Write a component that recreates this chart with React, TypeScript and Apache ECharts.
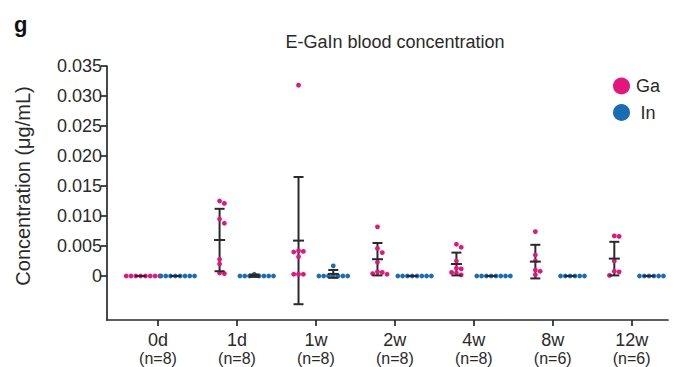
import React, { useEffect, useRef } from "react";
import * as echarts from "echarts";

// ---------- data ----------
const categories = ["0d", "1d", "1w", "2w", "4w", "8w", "12w"];
const sampleSizes = [8, 8, 8, 8, 8, 6, 6];
const yTicks = [0, 0.005, 0.01, 0.015, 0.02, 0.025, 0.03, 0.035];

const gaValues: number[][] = [
  [0, 0, 0, 0, 0, 0, 0, 0],
  [0.0125, 0.0121, 0.0095, 0.0088, 0.0028, 0.002, 0.0005, 0.0004],
  [0.0318, 0.0042, 0.0041, 0.004, 0.0032, 0.0003, 0.0003, 0.0003],
  [0.0082, 0.0046, 0.0039, 0.0023, 0.0007, 0.0006, 0.0004, 0.0003],
  [0.0053, 0.0048, 0.0025, 0.0013, 0.0012, 0.0006, 0.0005, 0.0002],
  [0.0074, 0.0035, 0.0025, 0.001, 0.0008, 0.0002],
  [0.0067, 0.0066, 0.0025, 0.0008, 0.0007, 0.0001],
];
const inValues: number[][] = [
  [0, 0, 0, 0, 0, 0, 0, 0],
  [0.0003, 0, 0, 0, 0, 0, 0, 0],
  [0.0017, 0, 0, 0, 0, 0, 0, 0],
  [0, 0, 0, 0, 0, 0, 0, 0],
  [0, 0, 0, 0, 0, 0, 0, 0],
  [0, 0, 0, 0, 0, 0],
  [0, 0, 0, 0, 0, 0],
];
const gaMean = [0, 0.006, 0.0059, 0.0028, 0.002, 0.0024, 0.0029];
const gaSD = [0, 0.0052, 0.0106, 0.0027, 0.0019, 0.0028, 0.0028];
const inMean = [0, 0.00005, 0.00035, 0, 0, 0, 0];
const inSD = [0, 0.0002, 0.00065, 0, 0, 0, 0];

// ---------- styling / layout ----------
const GA_COLOR = "#E5157C";
const IN_COLOR = "#1A6CB4";
const INK = "#2a2a2a";
const FONT = "'Liberation Sans', Arial, Helvetica, sans-serif";
const GROUP_OFFSET = 0.22;
const DOT = 4.8;
const PX_PER_X = 79;
const PX_PER_Y = 6000;

function swarm(values: number[], center: number): number[][] {
  const placed: { x: number; y: number }[] = [];
  const out: number[][] = new Array(values.length);
  const order = values.map((_, i) => i).sort((a, b) => values[b] - values[a]);
  for (const i of order) {
    const y = values[i] * PX_PER_Y;
    for (let k = 0; k < 60; k++) {
      const off = k === 0 ? 0 : (k % 2 === 1 ? 1 : -1) * Math.ceil(k / 2) * DOT;
      if (placed.every((p) => Math.hypot(p.x - off, p.y - y) >= DOT - 0.01)) {
        placed.push({ x: off, y });
        out[i] = [center + off / PX_PER_X, values[i]];
        break;
      }
    }
  }
  return out;
}

export default function App() {
  const ref = useRef<HTMLDivElement>(null);

  useEffect(() => {
    document.body.style.margin = "0";
    if (!ref.current) return;
    const chart = echarts.init(ref.current, undefined, { renderer: "svg" });

    const gaData: number[][] = [];
    const inData: number[][] = [];
    const errData: number[][] = [];
    categories.forEach((_, i) => {
      gaData.push(...swarm(gaValues[i], i - GROUP_OFFSET));
      inData.push(...swarm(inValues[i], i + GROUP_OFFSET));
      errData.push([i - GROUP_OFFSET, gaMean[i], gaSD[i]]);
      errData.push([i + GROUP_OFFSET, inMean[i], inSD[i]]);
    });

    const vertical = (params: any, api: any) => {
      const x = api.value(0);
      const m = api.value(1);
      const s = api.value(2);
      const top = api.coord([x, m + s]);
      const bot = api.coord([x, m - s]);
      return {
        type: "line",
        shape: { x1: top[0], y1: top[1], x2: bot[0], y2: bot[1] },
        style: { stroke: INK, lineWidth: 2 },
      };
    };
    const caps = (params: any, api: any) => {
      const x = api.value(0);
      const m = api.value(1);
      const s = api.value(2);
      const top = api.coord([x, m + s]);
      const bot = api.coord([x, m - s]);
      const mid = api.coord([x, m]);
      const hw = 5;
      const mw = 5.5;
      return {
        type: "group",
        children: [
          { type: "line", shape: { x1: top[0] - hw, y1: top[1], x2: top[0] + hw, y2: top[1] }, style: { stroke: INK, lineWidth: 2 } },
          { type: "line", shape: { x1: bot[0] - hw, y1: bot[1], x2: bot[0] + hw, y2: bot[1] }, style: { stroke: INK, lineWidth: 2 } },
          { type: "line", shape: { x1: mid[0] - mw, y1: mid[1], x2: mid[0] + mw, y2: mid[1] }, style: { stroke: INK, lineWidth: 2 } },
        ],
      };
    };

    chart.setOption({
      animation: false,
      backgroundColor: "#ffffff",
      textStyle: { fontFamily: FONT },
      grid: { left: 107, right: 11, top: 66, bottom: 47, containLabel: false },
      legend: {
        data: ["Ga", "In"],
        orient: "vertical",
        left: 608,
        top: 72,
        itemWidth: 17,
        itemHeight: 17,
        itemGap: 8.5,
        icon: "circle",
        formatter: "{c|{name}}",
        textStyle: {
          fontFamily: FONT,
          fontSize: 18,
          color: INK,
          rich: { c: { width: 26, align: "center", fontSize: 18, fontFamily: FONT, color: INK } },
        },
      },
      graphic: [
        {
          type: "text",
          style: { text: "g", x: 14, y: 24, verticalAlign: "middle", fontSize: 22, fontWeight: "bold", fontFamily: FONT, fill: "#111" },
        },
        {
          type: "text",
          style: { text: "E-GaIn blood concentration", x: 395, y: 42, align: "center", verticalAlign: "middle", fontSize: 18, fontFamily: FONT, fill: INK },
        },
        {
          type: "text",
          x: 23,
          y: 186,
          rotation: Math.PI / 2,
          style: { text: "Concentration (μg/mL)", x: 0, y: 0, align: "center", verticalAlign: "middle", fontSize: 20, fontFamily: FONT, fill: INK },
        },
      ],
      xAxis: {
        type: "value",
        min: -0.646,
        max: 6.46,
        splitLine: { show: false },
        axisLine: { show: true, onZero: false, lineStyle: { color: INK, width: 1.7 } },
        axisTick: { show: true, length: 6, lineStyle: { color: INK, width: 1.7 }, customValues: categories.map((_, i) => i) },
        axisLabel: {
          customValues: categories.map((_, i) => i),
          margin: 10,
          formatter: (v: number) => {
            const i = Math.round(v);
            return `{a|${categories[i]}}\n{b|(n=${sampleSizes[i]})}`;
          },
          rich: {
            a: { fontSize: 18, lineHeight: 19, color: INK, fontFamily: FONT },
            b: { fontSize: 16, lineHeight: 18, color: INK, fontFamily: FONT },
          },
        },
      },
      yAxis: {
        type: "value",
        min: -0.00733,
        max: 0.035,
        splitLine: { show: false },
        axisLine: { show: true, onZero: false, lineStyle: { color: INK, width: 1.7 } },
        axisTick: { show: true, length: 6, lineStyle: { color: INK, width: 1.7 }, customValues: yTicks },
        axisLabel: {
          customValues: yTicks,
          margin: 5,
          fontSize: 18,
          color: INK,
          fontFamily: FONT,
          formatter: (v: number) => (Math.abs(v) < 1e-9 ? "0" : v.toFixed(3)),
        },
      },
      series: [
        { type: "custom", name: "errV", renderItem: vertical, data: errData, z: 2, silent: true },
        { type: "scatter", name: "Ga", data: gaData, symbolSize: DOT, itemStyle: { color: GA_COLOR, opacity: 1 }, z: 3 },
        { type: "scatter", name: "In", data: inData, symbolSize: DOT, itemStyle: { color: IN_COLOR, opacity: 1 }, z: 3 },
        { type: "custom", name: "errC", renderItem: caps, data: errData, z: 4, silent: true },
      ],
    });

    return () => chart.dispose();
  }, []);

  return <div ref={ref} style={{ width: 679, height: 367 }} />;
}
